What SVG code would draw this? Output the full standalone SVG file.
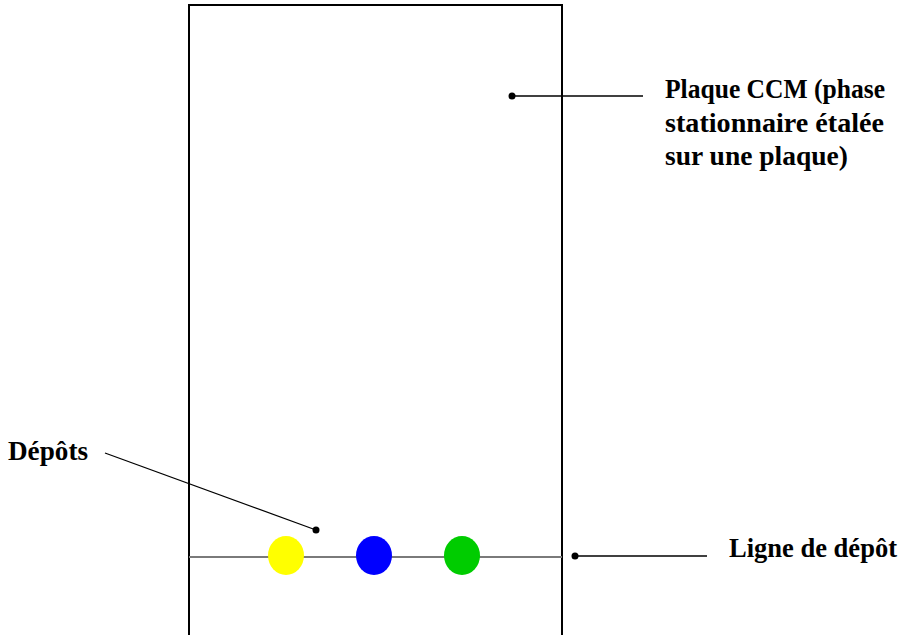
<svg xmlns="http://www.w3.org/2000/svg" width="903" height="635" viewBox="0 0 903 635">
<style>
.lbl{font-family:"Liberation Serif","Times New Roman",serif;font-weight:bold;font-size:27px;fill:#000}
.ld{stroke:#000;stroke-width:1.3;fill:none}
.dot{fill:#000}
</style>
<rect width="903" height="635" fill="#fff"/>
<g id="plaque">
<rect x="189" y="5" width="373" height="640" fill="#fff" stroke="#000" stroke-width="2"/>
</g>
<g id="ligne-depot-line">
<line x1="189" y1="557" x2="562" y2="557" stroke="#7a7a7a" stroke-width="2"/>
</g>
<g id="spot-yellow"><ellipse cx="286" cy="555.5" rx="18" ry="19.5" fill="#ffff00"/></g>
<g id="spot-blue"><ellipse cx="374" cy="555.5" rx="18" ry="19.5" fill="#0000ff"/></g>
<g id="spot-green"><ellipse cx="462" cy="555.5" rx="18" ry="19.5" fill="#00cc00"/></g>
<g id="connectors">
<line class="ld" x1="512" y1="96" x2="643" y2="96"/>
<circle class="dot" cx="512" cy="96" r="3.5"/>
<line class="ld" x1="105" y1="453" x2="316" y2="530"/>
<circle class="dot" cx="316" cy="530" r="3.5"/>
<line class="ld" x1="575" y1="556" x2="707" y2="556"/>
<circle class="dot" cx="575" cy="556" r="3.5"/>
</g>
<g id="label-plaque">
<text class="lbl" x="665" y="98" textLength="220" lengthAdjust="spacingAndGlyphs">Plaque CCM (phase</text>
<text class="lbl" x="665" y="132" textLength="219" lengthAdjust="spacingAndGlyphs">stationnaire étalée</text>
<text class="lbl" x="665" y="165" textLength="183" lengthAdjust="spacingAndGlyphs">sur une plaque)</text>
</g>
<g id="label-depots">
<text class="lbl" x="8" y="460" textLength="80" lengthAdjust="spacingAndGlyphs">Dépôts</text>
</g>
<g id="label-ligne">
<text class="lbl" x="729" y="557" textLength="168" lengthAdjust="spacingAndGlyphs">Ligne de dépôt</text>
</g>
</svg>
